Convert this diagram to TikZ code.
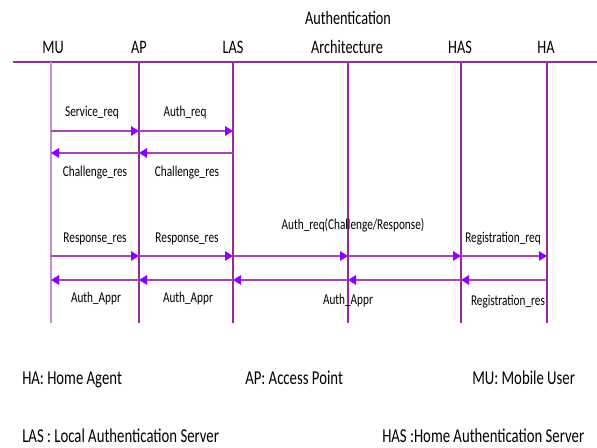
\documentclass[tikz,border=0pt]{standalone}
\usepackage{fontspec}
\setmainfont{Carlito}[FakeStretch=0.75]
\usetikzlibrary{arrows.meta}

\definecolor{lifepurple}{RGB}{150,40,160}
\definecolor{mulife}{RGB}{200,140,210}
\definecolor{msgline}{RGB}{165,70,180}
\definecolor{tipviolet}{RGB}{140,0,255}

\tikzset{
  life/.style={draw=lifepurple, line width=1pt},
  msg/.style={draw=msgline, line width=1.5pt, -{Triangle[length=6pt, width=7pt, color=tipviolet]}},
  head/.style={font=\fontsize{14.25}{16}\selectfont, anchor=base, inner sep=0pt},
  lbl/.style={font=\fontsize{11.25}{13}\selectfont, anchor=base, inner sep=0pt},
  key/.style={font=\fontsize{14.75}{17}\selectfont, anchor=base west, inner sep=0pt}
}

\begin{document}
\begin{tikzpicture}[x=0.75pt, y=-0.75pt]
  \useasboundingbox (0,0) rectangle (597,448);

  % entities
  \node[head] (mu) at (53,54) {MU};
  \node[head] (ap) at (139,54) {AP};
  \node[head] (las) at (233,54) {LAS};
  \node[head] (arch-t) at (348,25) {Authentication};
  \node[head] (arch) at (347,54) {Architecture};
  \node[head] (has) at (460,54) {HAS};
  \node[head] (ha) at (546,54) {HA};

  \coordinate (rule-l) at (13,62);
  \coordinate (rule-r) at (597,62);
  \draw[lifepurple, line width=1.5pt] (rule-l) -- (rule-r);

  % lifelines and message points
  \foreach \n/\x in {mu/51, ap/139, las/233, arch/348, has/461, ha/547} {
    \coordinate (\n-top) at (\x,62);
    \coordinate (\n-bot) at (\x,323);
    \coordinate (\n-a) at (\x,131);
    \coordinate (\n-b) at (\x,153);
    \coordinate (\n-c) at (\x,256);
    \coordinate (\n-d) at (\x,280);
  }
  \draw[life, draw=mulife, line width=1.5pt] (mu-top) -- (mu-bot);
  \foreach \n in {ap, las, arch, has, ha}
    \draw[life] (\n-top) -- (\n-bot);

  % messages
  \draw[msg] (mu-a) -- (ap-a);
  \draw[msg] (ap-a) -- (las-a);
  \draw[msg] (las-b) -- (ap-b);
  \draw[msg] (ap-b) -- (mu-b);
  \foreach \s/\t in {mu/ap, ap/las, las/arch, arch/has, has/ha} {
    \draw[msg] (\s-c) -- (\t-c);
    \draw[msg] (\t-d) -- (\s-d);
  }

  \node[lbl] (svc-req) at (92,117) {Service\_req};
  \node[lbl] (auth-req) at (185,117) {Auth\_req};
  \node[lbl] (chal-1) at (95,177) {Challenge\_res};
  \node[lbl] (chal-2) at (187,177) {Challenge\_res};
  \node[lbl] (resp-1) at (95,243) {Response\_res};
  \node[lbl] (resp-2) at (187,243) {Response\_res};
  \node[lbl] (auth-cr) at (353,230) {Auth\_req(Challenge/Response)};
  \node[lbl] (reg-req) at (503,243) {Registration\_req};
  \node[lbl] (appr-1) at (96,303) {Auth\_Appr};
  \node[lbl] (appr-2) at (188,303) {Auth\_Appr};
  \node[lbl] (appr-3) at (348,305) {Auth\_Appr};
  \node[lbl] (reg-res) at (508,306) {Registration\_res};

  % legend
  \node[key] (key-ha) at (22,385) {HA: Home Agent};
  \node[key] (key-ap) at (245,385) {AP: Access Point};
  \node[key] (key-mu) at (472,385) {MU: Mobile User};
  \node[key] (key-las) at (22,443) {LAS : Local Authentication Server};
  \node[key] (key-has) at (382,443) {HAS :Home Authentication Server};
\end{tikzpicture}
\end{document}
